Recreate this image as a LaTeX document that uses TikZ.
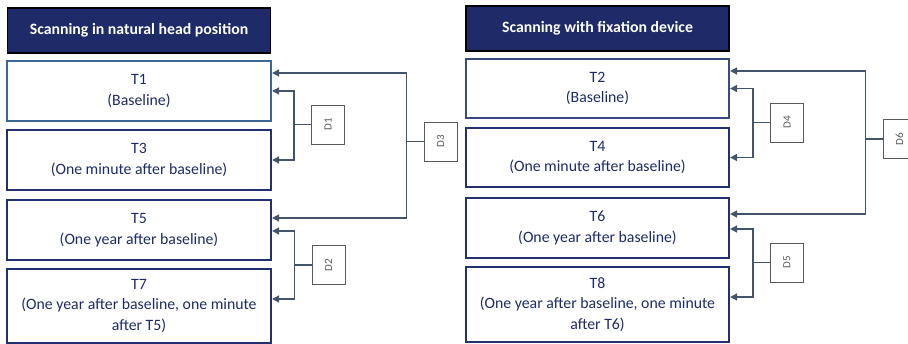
\documentclass[tikz,border=0pt]{standalone}
\usepackage{fontspec}
\setmainfont{Carlito}
\usetikzlibrary{arrows.meta}
\definecolor{navy}{HTML}{1F2A68}
\definecolor{boxline}{HTML}{232F70}
\definecolor{steel}{HTML}{3C6896}
\definecolor{slate}{HTML}{3A4A80}
\definecolor{conn}{HTML}{44546A}
\definecolor{dline}{HTML}{5A5A5A}
\begin{document}
\begin{tikzpicture}[x=1pt,y=-1pt,
  header/.style={draw=black, line width=1.3pt, fill=navy, text=white,
    font=\fontsize{15.8}{18}\selectfont\bfseries, inner sep=0pt,
    minimum width=263pt, minimum height=45pt},
  tbox/.style={draw=boxline, line width=2.2pt, text=navy, align=center,
    font=\fontsize{15.8}{20.5}\selectfont, inner sep=0pt,
    minimum width=264pt, minimum height=60pt},
  dbox/.style={draw=dline, line width=0.9pt, text=dline, inner sep=0pt,
    minimum width=33pt, minimum height=39pt,
    label={[rotate=90, font=\fontsize{11}{12}\selectfont, text=dline]center:#1}},
  arr/.style={draw=conn, line width=1.6pt, -{Triangle[length=7pt,width=7pt]}}]
\useasboundingbox (0,0) rectangle (908,344);

% left column: natural head position
\node[header] (hl) at (139,30.5) {Scanning in natural head position};
\node[tbox, draw=steel] (t1) at (139,91) {T1\\(Baseline)};
\node[tbox] (t3) at (139,160) {T3\\(One minute after baseline)};
\node[tbox] (t5) at (139,230) {T5\\(One year after baseline)};
\node[tbox, minimum height=74pt] (t7) at (139,306) {T7\\(One year after baseline, one minute\\after T5)};

% right column: fixation device
\node[header] (hr) at (597.5,28.5) {Scanning with fixation device};
\node[tbox, draw=slate, minimum width=263pt, minimum height=59pt] (t2) at (597.5,88.5) {T2\\(Baseline)};
\node[tbox, minimum width=263pt, minimum height=59pt] (t4) at (597.5,157.5) {T4\\(One minute after baseline)};
\node[tbox, minimum width=263pt] (t6) at (597.5,228) {T6\\(One year after baseline)};
\node[tbox, minimum width=263pt, minimum height=75pt] (t8) at (597.5,304.5) {T8\\(One year after baseline, one minute\\after T6)};

% difference labels
\node[dbox=D1] (d1) at (328,124.5) {};
\node[dbox=D2] (d2) at (328.5,265) {};
\node[dbox=D3] (d3) at (440.5,141.5) {};
\node[dbox=D4] (d4) at (787,122.5) {};
\node[dbox=D5] (d5) at (787,262.5) {};
\node[dbox=D6] (d6) at (899.5,139) {};

% brackets, left
\draw[arr] (d1.west) -- ++(-17,0) |- (t1.east);
\draw[arr] (d1.west) -- ++(-17,0) |- (t3.east);
\draw[arr] (d2.west) -- ++(-17,0) |- ([yshift=-1pt]t5.east);
\draw[arr] (d2.west) -- ++(-17,0) |- ([yshift=7pt]t7.east);
\draw[arr] (d3.west) -- ++(-17,0) |- ([yshift=18pt]t1.east);
\draw[arr] (d3.west) -- ++(-17,0) |- ([yshift=12pt]t5.east);

% brackets, right
\draw[arr] (d4.west) -- ++(-17,0) |- (t2.east);
\draw[arr] (d4.west) -- ++(-17,0) |- (t4.east);
\draw[arr] (d5.west) -- ++(-17,0) |- ([yshift=-1pt]t6.east);
\draw[arr] (d5.west) -- ++(-17,0) |- ([yshift=7.5pt]t8.east);
\draw[arr] (d6.west) -- ++(-17,0) |- ([yshift=17.5pt]t2.east);
\draw[arr] (d6.west) -- ++(-17,0) |- ([yshift=14pt]t6.east);
\end{tikzpicture}
\end{document}
